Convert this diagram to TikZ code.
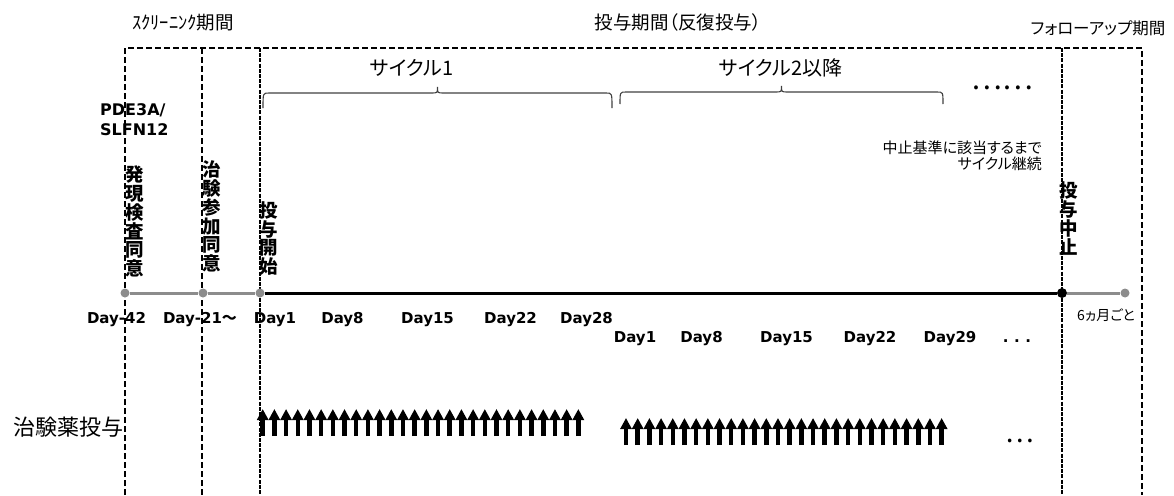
\documentclass[tikz,border=0pt]{standalone}
\usepackage{fontspec}
\setmainfont{DejaVu Sans}
\newfontfamily\jp{Noto Sans CJK JP}[RawFeature=+palt]
\newfontfamily\jpf{Noto Sans CJK JP}
\usetikzlibrary{arrows.meta}
\definecolor{tgray}{HTML}{8C8C8C}
\definecolor{brc}{HTML}{404040}
\begin{document}
\begin{tikzpicture}[x=1pt,y=-1pt,
  hdr/.style={font=\jp\fontsize{18.5}{18.5}\selectfont, inner sep=0},
  cyc/.style={font=\jp\fontsize{20}{20}\selectfont, inner sep=0},
  note/.style={font=\jp\fontsize{15}{16}\selectfont, inner sep=0, align=right},
  vt/.style={font=\jp\bfseries\fontsize{18.5}{18.8}\selectfont, align=center, inner sep=0},
  day/.style={font=\bfseries\fontsize{15}{15}\selectfont, inner sep=0, anchor=base},
  box/.style={dash pattern=on 6pt off 3pt, line width=1.2pt},
  boxw/.style={dash pattern=on 4pt off 1.2pt, line width=1.3pt},
  gdot/.style={circle, fill=tgray, inner sep=0, minimum size=9pt},
  bdot/.style={circle, fill=black, inner sep=0, minimum size=10pt},
  gline/.style={tgray, line width=3pt},
  bline/.style={black, line width=3pt},
  brace/.style={brc, line width=1.1pt},
  dose/.style={-{Triangle[width=11pt,length=11pt]}, line width=4.5pt},
]
\useasboundingbox (0,0) rectangle (1174,495);

% dashed period boxes
\draw[box] (125,495) -- (125,48) -- (1142,48) -- (1142,495);
\draw[box] (202,48) -- (202,495);
\draw[boxw] (260,48) -- (260,495);
\draw[boxw] (1062,48) -- (1062,495);

% headers
\node[hdr] (h1) at (183,23) {ｽｸﾘｰﾆﾝｸ期間};
\node[hdr] (h2) at (678,22) {投与期間（反復投与）};
\node[hdr, font=\jp\fontsize{16.5}{16.5}\selectfont] (h3) at (1098,28) {フォローアップ期間};

% cycle braces
\node[cyc] (c1lab) at (412,68) {サイクル1};
\node[cyc] (c2lab) at (781,67.5) {サイクル2以降};
\draw[brace] (263,108) .. controls (263,93) .. (269,93) -- (431.5,93)
  .. controls (437.5,93) .. (437.5,87) .. controls (437.5,93) .. (443.5,93)
  -- (606,93) .. controls (612,93) .. (612,108);
\draw[brace] (620,104) .. controls (620,92) .. (626,92) -- (775.5,92)
  .. controls (781.5,92) .. (781.5,86) .. controls (781.5,92) .. (787.5,92)
  -- (937,92) .. controls (943,92) .. (943,104);
\node[font=\jpf\fontsize{29}{29}\selectfont, inner sep=0] (more1) at (1002,88) {……};

\node[note, anchor=east] (n1) at (1042,156) {中止基準に該当するまで\\サイクル継続};

% events
\node[font=\bfseries\fontsize{16}{20}\selectfont, inner sep=0, anchor=base west, align=left] (pde) at (100,135) {PDE3A/\\SLFN12};
\node[vt] (v1) at (135,221.5) {発\\現\\検\\査\\同\\意};
\node[vt] (v2) at (212,216.5) {治\\験\\参\\加\\同\\意};
\node[vt] (v3) at (269,238.5) {投\\与\\開\\始};
\node[vt] (v4) at (1069,218.5) {投\\与\\中\\止};

% timeline
\node[gdot] (t0) at (125,293) {};
\node[gdot] (t1) at (203,293) {};
\node[gdot] (t2) at (260,293) {};
\node[bdot] (t3) at (1062,293) {};
\node[gdot] (t4) at (1125,293) {};
\draw[gline] (t0) -- (t1);
\draw[gline] (t1) -- (t2);
\draw[bline] (t2) -- (t3);
\draw[gline] (t3) -- (t4);

% day labels
\node[day] (d1) at (116.5,323) {Day-42};
\node[day] (d2) at (200,323) {Day-21{\jp ～}};
\node[day] (d3) at (275,323) {Day1};
\node[day] (d4) at (342.5,323) {Day8};
\node[day] (d5) at (427.5,323) {Day15};
\node[day] (d6) at (510.5,323) {Day22};
\node[day] (d7) at (586.5,323) {Day28};
\node[day] (e1) at (635,342) {Day1};
\node[day] (e2) at (701.5,342) {Day8};
\node[day] (e3) at (786.5,342) {Day15};
\node[day] (e4) at (870,342) {Day22};
\node[day] (e5) at (950,342) {Day29};
\node[day] (e6) at (1017,342) {.\hspace{5.5pt}.\hspace{5.5pt}.};
\node[font=\jp\fontsize{14}{14}\selectfont, inner sep=0, anchor=base] (fu) at (1106,320) {6ヵ月ごと};

% dosing
\node[font=\jp\fontsize{22}{22}\selectfont, inner sep=0] (rx) at (68,427) {治験薬投与};
\foreach \i in {0,...,27} {
  \draw[dose] (262.7+11.69*\i,436) -- (262.7+11.69*\i,409);
  \draw[dose] (626+11.69*\i,445) -- (626+11.69*\i,418);
}
\node[font=\jpf\fontsize{27}{27}\selectfont, inner sep=0] (more2) at (1020,441) {…};
\end{tikzpicture}
\end{document}
